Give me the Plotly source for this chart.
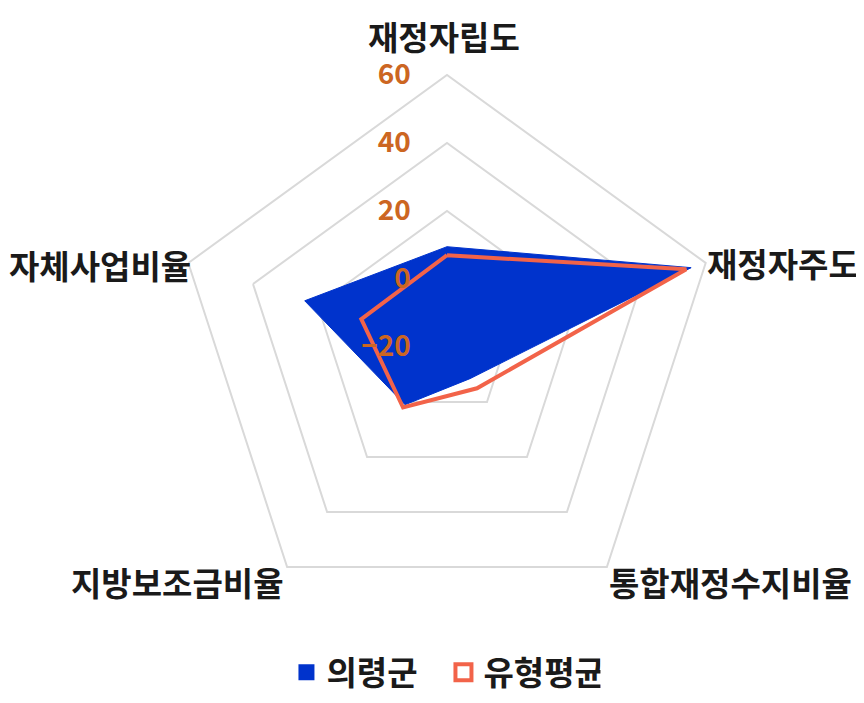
import plotly.graph_objects as go

categories = ["재정자립도", "재정자주도", "통합재정수지비율", "지방보조금비율", "자체사업비율"]
uiryeong = [9.5, 55.5, -8.5, 1.0, 24.0]
type_avg = [7.0, 54.0, -5.0, 2.0, 6.5]
tick_vals = [-20, 0, 20, 40, 60]
series_names = ["의령군", "유형평균"]

BLUE = "#0033CC"
ORANGE = "#F26349"
W, H = 864, 703

def close(vals):
    return vals + vals[:1]

cats_closed = categories + categories[:1]

fig = go.Figure()
fig.add_trace(go.Scatterpolar(
    r=close(uiryeong), theta=cats_closed, name=series_names[0],
    mode="lines", fill="toself", fillcolor=BLUE,
    line=dict(color=BLUE, width=1), showlegend=False,
))
fig.add_trace(go.Scatterpolar(
    r=close(type_avg), theta=cats_closed, name=series_names[1],
    mode="lines", line=dict(color=ORANGE, width=4), showlegend=False,
))
# legend entries
fig.add_trace(go.Scatterpolar(
    r=[None], theta=[None], name=series_names[0], mode="markers",
    marker=dict(symbol="square", size=22, color=BLUE),
))
fig.add_trace(go.Scatterpolar(
    r=[None], theta=[None], name=series_names[1], mode="markers",
    marker=dict(symbol="square-open", size=22, color=ORANGE, line=dict(width=4, color=ORANGE)),
))

# category label placement (pixel anchor, alignment)
label_pos = [
    (436, 28, "center"),
    (697, 255, "left"),
    (599, 574, "left"),
    (278, 574, "right"),
    (185, 257, "right"),
]
for cat, (px, py, xa) in zip(categories, label_pos):
    fig.add_annotation(
        text=cat, xref="paper", yref="paper", x=px / W, y=1 - py / H,
        xanchor=xa, yanchor="middle", showarrow=False,
        font=dict(size=33, color="#1a1a1a", weight="bold"),
    )

dx, dy = -6 / W, 8 / H
fig.update_layout(
    width=W, height=H,
    margin=dict(l=0, r=0, t=0, b=0),
    paper_bgcolor="white",
    font=dict(family="Noto Sans CJK KR", color="#1a1a1a"),
    polar=dict(
        domain=dict(x=[0.2002 + dx, 0.8299 + dx], y=[0.1195 + dy, 0.8933 + dy]),
        bgcolor="white",
        gridshape="linear",
        angularaxis=dict(
            rotation=90, direction="clockwise",
            showgrid=False, showline=True, linecolor="#D9D9D9", linewidth=2,
            ticks="", showticklabels=False,
        ),
        radialaxis=dict(
            range=[-20, 60], tickvals=tick_vals, angle=90,
            showline=False, ticks="outside", ticklen=26, tickcolor="rgba(0,0,0,0)",
            gridcolor="#D9D9D9", gridwidth=2,
            tickfont=dict(size=28, color="#CC6622", weight="bold"),
            side="counterclockwise", tickangle=90,
        ),
    ),
    legend=dict(
        orientation="h", x=0.504, xanchor="center", y=0.055, yanchor="middle",
        entrywidth=112, entrywidthmode="pixels",
        font=dict(size=33, color="#1a1a1a", weight="bold"),
    ),
)

fig.write_html("out.html")
